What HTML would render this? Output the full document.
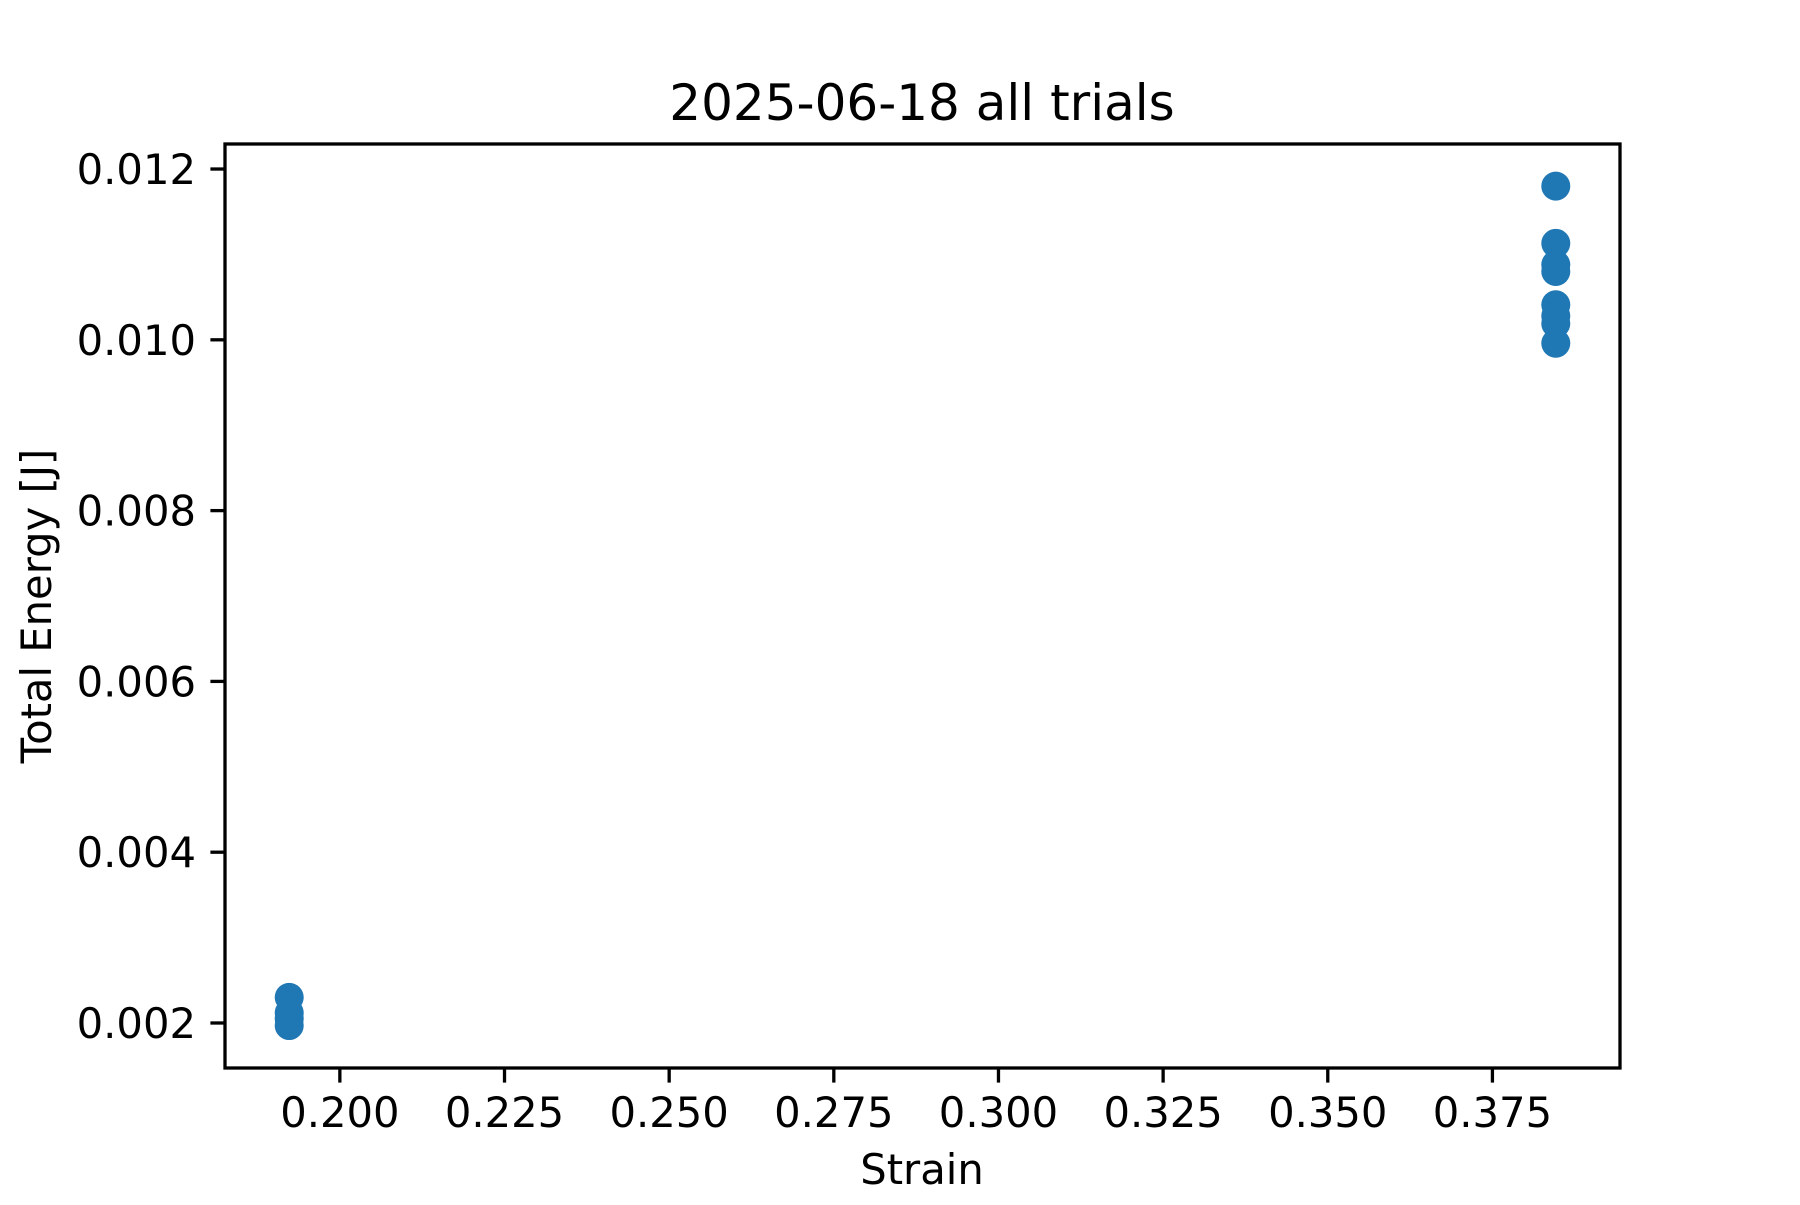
<!DOCTYPE html>
<html><head><meta charset="utf-8"><style>
html,body{margin:0;padding:0;background:#fff;}
svg text{font-family:"DejaVu Sans","Liberation Sans",sans-serif;fill:#000;}
</style></head><body>
<svg id="chart" width="1800" height="1200" viewBox="0 0 1800 1200" xmlns="http://www.w3.org/2000/svg">
<rect width="1800" height="1200" fill="#fff"/>
<g id="marks"></g>
<g id="axes"></g>
<text x="922" y="120" font-size="50" text-anchor="middle">2025-06-18 all trials</text>
<text x="922" y="1184" font-size="41.7" text-anchor="middle">Strain</text>
<text transform="translate(51,606) rotate(-90)" font-size="41.7" text-anchor="middle">Total Energy [J]</text>
</svg>
<script>
const xValues = [0.19231,0.19231,0.19231,0.19231,0.38462,0.38462,0.38462,0.38462,0.38462,0.38462,0.38462,0.38462];
const yValues = [0.00230,0.00212,0.00205,0.00197,0.01180,0.01113,0.01088,0.01080,0.01041,0.01028,0.01019,0.00996];
const xTicks = [0.200,0.225,0.250,0.275,0.300,0.325,0.350,0.375];
const xTickLabels = ["0.200","0.225","0.250","0.275","0.300","0.325","0.350","0.375"];
const yTicks = [0.002,0.004,0.006,0.008,0.010,0.012];
const yTickLabels = ["0.002","0.004","0.006","0.008","0.010","0.012"];

const L=225,R=1620,T=144,B=1068;
const xmin=0.18256,xmax=0.39437,ymin=0.001473,ymax=0.012293;
const sx=v=>L+(v-xmin)/(xmax-xmin)*(R-L);
const sy=v=>B-(v-ymin)/(ymax-ymin)*(B-T);
const NS="http://www.w3.org/2000/svg";
function mk(tag,attrs,parent){const e=document.createElementNS(NS,tag);for(const k in attrs)e.setAttribute(k,attrs[k]);parent.appendChild(e);return e;}
const marks=document.getElementById('marks');
for(let i=0;i<xValues.length;i++){
  const c=mk('circle',{cx:sx(xValues[i]),cy:sy(yValues[i]),r:14.5,fill:'#1f77b4'},marks);
  
  
}
const axes=document.getElementById('axes');
const frame=mk('rect',{x:L,y:T,width:R-L,height:B-T,fill:'none',stroke:'#000','stroke-width':3.3},axes);


xTicks.forEach((v,i)=>{
  const x=sx(v);
  const t=mk('line',{x1:x,x2:x,y1:B,y2:B+14.6,stroke:'#000','stroke-width':3.3},axes);
  
  
  const l=mk('text',{x:x,y:B+59,'font-size':41.7,'text-anchor':'middle'},axes);
  l.textContent=xTickLabels[i];
  
  
});
yTicks.forEach((v,i)=>{
  const y=sy(v);
  const t=mk('line',{x1:L-14.6,x2:L,y1:y,y2:y,stroke:'#000','stroke-width':3.3},axes);
  
  
  const l=mk('text',{x:L-29,y:y+15,'font-size':41.7,'text-anchor':'end'},axes);
  l.textContent=yTickLabels[i];
  
  
});
</script>
</body></html>
